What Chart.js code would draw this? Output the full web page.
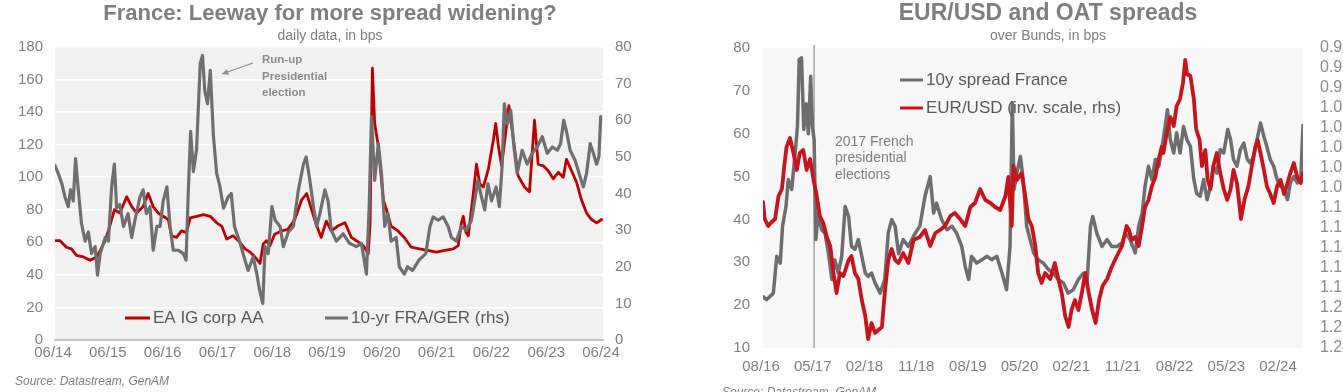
<!DOCTYPE html>
<html>
<head>
<meta charset="utf-8">
<script src="https://cdn.jsdelivr.net/npm/chart.js@4.4.1/dist/chart.umd.min.js"></script>
<style>
  html, body { margin: 0; padding: 0; background: #fff; }
  body { width: 1343px; height: 392px; overflow: hidden; position: relative; font-family: "Liberation Sans", Arial, sans-serif; }
  #left { position: absolute; left: 0; top: 0; }
  #right { position: absolute; left: 696px; top: 0; }
  .src { position: absolute; font-style: italic; font-size: 12px; color: #7f7f7f; white-space: nowrap; }
</style>
</head>
<body>
<canvas id="left" width="660" height="392"></canvas>
<canvas id="right" width="704" height="392"></canvas>
<div class="src" style="left:15px;top:374px">Source: Datastream, GenAM</div>
<div class="src" style="left:722px;top:385px">Source: Datastream, GenAM</div>
<script>
// ---- left chart: months since 06/2014 ----
const leftTickMonths = [0, 12, 24, 36, 48, 60, 72, 84, 96, 108, 120];
const leftTicks = ['06/14','06/15','06/16','06/17','06/18','06/19','06/20','06/21','06/22','06/23','06/24'];
const leftLhsTicks = [0, 20, 40, 60, 80, 100, 120, 140, 160, 180];
const leftRhsTicks = [0, 10, 20, 30, 40, 50, 60, 70, 80];

// EA IG corp AA (lhs)
const corpMonths = [0,1.1,2.5,3.6,4.7,6.2,7.7,9.1,9.9,11,12,13,14.2,15.7,16.8,17.9,19.3,20.4,21.5,22.6,23.7,24.8,25.5,26.6,27.7,28.8,29.6,31,32.5,34,35.4,36.5,37.6,39,40.5,41.6,42.7,43.8,44.9,45.6,46.3,47.1,48.1,49.6,51,52.5,54,55.1,56.2,57.2,58.3,59.4,60.5,61.9,63.5,64.9,66,67.5,68.6,69,69.5,70,70.8,71.9,72.6,73.6,75.1,76.5,78,79.8,81.6,83.5,85.4,87.2,88.3,89,89.4,90,90.5,91.6,92.3,93,93.8,94.9,96,96.5,97.1,97.8,98.5,99.4,100.3,101.4,102.8,103.9,105,105.8,106.9,108,109.1,110.2,111.3,112,113.1,114.2,115.3,116.4,117.5,118.6,119.7];
const corpAA = [61,61,57,56,52,51,49,51,55,61,70,80,78,88,82,78,82,90,82,78,76,74,64,63,67,66,75,76,77,76,72,70,62,64,60,56,54,51,47,59,61,58,65,67,68,74,86,90,80,71,63,73,67,70,72,63,61,58,53,72,167,133,119,86,80,70,67,63,57,56,55,54,55,56,58,72,76,66,64,90,108,96,94,105,123,133,119,107,123,144,125,101,94,91,135,108,107,104,99,103,100,111,104,97,86,78,74,72,74];

// 10-yr FRA/GER (rhs)
const fraGerMonths = [0,0.7,1.5,2.2,2.9,3.4,4,4.5,5.1,5.8,6.6,7.3,8,8.8,9.3,9.9,11,11.7,12.4,13,13.5,14.2,15,16,16.8,17.5,18.6,19.3,20,20.8,21.5,22.3,23,23.7,24.5,25.2,25.9,27,28.1,28.7,29.2,29.7,30.3,31,31.8,32.3,32.8,33.4,34,34.7,35.4,36.1,36.9,37.9,38.6,39.3,40.4,41.6,42.3,43.4,44.2,44.8,45.5,46,46.7,47.5,48.2,49.3,50,51.1,52.2,53.3,54.4,55,55.8,56.6,57.3,58,59.1,59.8,60.5,61.6,63.1,64.5,66,67.1,68.2,68.8,69.3,70,70.8,71.5,72.2,72.9,73.6,74.7,75.4,76.5,77.2,78.3,79.7,81.2,82.1,82.8,83.9,85,86.1,86.8,87.9,89,90.1,91.2,91.9,92.6,93.4,94.1,94.8,95.6,96.6,97.3,97.9,98.4,99.1,99.8,100.5,101.2,102.3,103.4,104.5,105.6,106.7,107.8,108.9,110,110.7,111.4,112.1,112.8,113.9,115,115.7,116.4,117.2,117.9,118.6,119.1,119.5];
const fraGer = [47.7,45.5,42.7,39,36.4,41,38,49.5,41,31.8,27,29.5,23.6,25.5,17.7,23.6,28,27,41.8,48,36,37,31,34.5,28,32.7,39,41,34.5,36.4,24.5,31,31,38,41.8,31,24.5,24.5,23.6,21.8,41,57,46,52,75.5,77.7,68,64.5,73.6,55.5,45.5,42,36,39,40,31,27,21.8,19,22.7,18,13.6,10,25.5,23.6,36.4,32.7,31,25.5,29.5,31,41,48,50,43.6,36.4,31,34.5,41,38,30,27,29,26.4,25.5,26.4,18,36.4,61,43.6,53.6,45.5,31,34.5,27,28,20,18,20,19,21.8,23.6,31,33.6,32.7,33.6,31,28,27,31,30,32.7,38,43.6,39,35.5,42.7,38,41.8,36.4,47.3,64.5,59,62.7,52.7,45.5,51.8,48,51,52.7,55.5,51,52.7,51.8,53.6,60,56.4,51.8,49,44.5,41.8,45.5,53.6,51,48,50,61];

// ---- right chart: months since 08/2016 ----
const rightTickMonths = [0, 9, 18, 27, 36, 45, 54, 63, 72, 81, 90];
const rightTicks = ['08/16','05/17','02/18','11/18','08/19','05/20','02/21','11/21','08/22','05/23','02/24'];
const rightLhsTicks = [10, 20, 30, 40, 50, 60, 70, 80];
const rightRhsTicks = [0.94,0.96,0.98,1.00,1.02,1.04,1.06,1.08,1.10,1.12,1.14,1.16,1.18,1.20,1.22,1.24];
const rightRhsLabels = ['0.94','0.96','0.98','1.00','1.02','1.04','1.06','1.08','1.10','1.12','1.14','1.16','1.18','1.20','1.22','1.24'];
const electionMonth = 8.9;

// 10y spread France (lhs)
const oatMonths = [0,0.6,1.2,1.8,2.4,3,3.4,4,4.4,5,5.6,6,6.3,6.7,7.1,7.5,7.9,8.3,8.6,8.9,9.2,9.6,10.2,10.8,11.4,12,12.5,13.1,13.7,14.3,14.9,15.4,16,16.6,17.2,17.8,18.3,18.9,19.5,20.4,21.2,21.8,22.4,23,23.6,24.4,25.3,26.5,27.3,28.2,29.1,29.7,30.2,31.1,32,32.9,33.7,34.6,35.2,35.8,36.3,37.2,38.1,39,39.8,40.7,41.6,42.4,43,43.4,43.7,44.2,44.8,45.3,45.9,46.5,47.1,47.9,48.8,49.7,50.5,51.4,52.3,53.1,54,54.9,55.8,56.4,57,57.4,58.1,59,59.9,60.7,61.6,62.5,63.1,63.9,64.8,65.4,66,66.5,67.1,67.7,68.3,68.9,69.4,70,70.4,70.9,71.5,72,72.6,73.2,73.8,74.4,75,75.5,76.1,76.7,77.3,77.9,78.4,79,79.6,80.2,80.9,81.4,81.9,82.5,83.1,83.7,84.3,84.8,85.4,86,86.6,87.2,87.7,88.3,88.9,89.5,90.1,90.7,91.3,91.8,92.4,93,93.6,94];
const oatSpread = [22,21.3,22,22.8,31.4,29.8,38.4,43,49.3,47,55.5,61.7,77.3,77.7,61,67,60,73.4,61.7,58.6,35.3,41.5,37.6,36.8,32,26,30.6,27.5,31.4,43,40.7,33.7,33,35.3,31.4,27.5,26.7,27.5,25.2,22.8,26,36.8,40,38.4,32,35.3,33.7,36.8,38.4,45.4,50,41.5,43.8,40,37.6,38.4,36.8,33.7,29,26,31.4,29.8,30.6,31.4,30.6,31.4,27.5,23.6,33.7,67.2,47,50.8,54.7,49.3,38.4,35.3,32.2,30.6,29.8,28.3,27.5,26,25.2,22.8,23.6,26,27.5,25.2,38.4,40.7,36.8,33.7,35.3,33.7,33.7,34.5,36.8,35.3,32.2,38.4,41.5,47.7,52.4,49.3,54,52.4,56.3,61.7,65.6,58.6,55.5,60.2,55.5,61.7,58.6,57,49.3,46,45.4,49.3,44.6,47.7,52.4,50.8,56.3,55.5,61,58.6,54,52.4,56.3,57.8,54,53.2,54.7,58.6,62.5,59.3,57,54,52.4,49.3,47.7,47,44.6,48.5,50,48.5,49.3,62];

// EUR/USD (inverted rhs)
const eurMonths = [0,0.3,0.9,1.5,2.1,2.7,3.3,3.7,4.1,4.7,5.3,5.9,6.4,7,7.6,8.2,8.8,9.3,9.9,10.5,11.1,11.7,12.2,12.8,13.4,14,14.9,15.4,16,16.6,17.2,17.8,18.3,18.9,19.5,20.1,20.7,21.2,21.8,22.4,23,23.6,24.4,25.3,26.2,27.3,28.2,29.1,30,30.8,31.7,32.6,33.4,34.3,35.2,36.1,36.9,37.8,38.7,39.6,40.4,41.3,42.2,42.7,43.3,43.6,44.2,45,45.6,46.2,46.8,47.4,47.9,48.5,49.1,50,50.8,51.4,52,52.6,53.2,53.7,54.3,54.9,55.5,56.1,56.7,57.3,57.9,58.5,59.1,59.9,60.7,61.6,62.5,63.3,63.7,64.2,64.8,65.4,66,66.5,67.1,67.7,68.3,68.9,69.4,69.7,70.3,70.9,71.5,72,72.6,73.1,73.5,73.8,74.4,75,75.4,76,76.4,77,77.4,77.9,78.4,79,79.6,80.2,80.8,81.4,81.9,82.5,83.2,83.8,84.5,85.1,85.7,86.1,86.6,87.2,87.7,88.3,88.9,89.5,90.1,90.7,91.3,91.8,92.4,93,93.6,94];
const eurUsd = [1.094,1.111,1.118,1.114,1.111,1.088,1.081,1.058,1.039,1.030,1.045,1.062,1.045,1.042,1.062,1.051,1.072,1.086,1.108,1.115,1.129,1.138,1.162,1.185,1.165,1.168,1.152,1.148,1.165,1.171,1.192,1.208,1.231,1.215,1.225,1.222,1.219,1.185,1.152,1.141,1.152,1.155,1.145,1.155,1.132,1.129,1.122,1.138,1.125,1.122,1.118,1.108,1.105,1.111,1.118,1.099,1.095,1.081,1.092,1.095,1.099,1.102,1.088,1.069,1.118,1.058,1.072,1.065,1.086,1.111,1.118,1.138,1.165,1.175,1.165,1.171,1.155,1.171,1.185,1.208,1.219,1.202,1.192,1.202,1.185,1.165,1.185,1.202,1.215,1.192,1.178,1.171,1.159,1.148,1.138,1.118,1.122,1.132,1.129,1.138,1.118,1.099,1.092,1.078,1.069,1.051,1.039,1.045,1.025,1.009,1.018,0.998,0.991,0.975,0.952,0.966,0.968,0.991,1.021,1.032,1.058,1.042,1.072,1.081,1.058,1.045,1.065,1.081,1.092,1.081,1.062,1.075,1.111,1.092,1.078,1.058,1.039,1.032,1.045,1.062,1.078,1.086,1.095,1.078,1.072,1.086,1.075,1.065,1.055,1.069,1.075,1.065];

Chart.defaults.font.family = '"Liberation Sans", Arial, sans-serif';
const TXT = '#7f7f7f';
const pts = (xs, ys) => xs.map((x, i) => ({ x, y: ys[i] }));

// plot background, legends, notes
const decor = {
  id: 'decor',
  beforeDraw(chart, args, o) {
    const { ctx, chartArea: a } = chart;
    ctx.save();
    ctx.fillStyle = o.bg;
    ctx.fillRect(a.left, a.top, a.right - a.left, a.bottom - a.top);
    ctx.restore();
  },
  beforeDatasetsDraw(chart, args, o) {
    if (!o.vline) return;
    const { ctx, chartArea: a } = chart;
    const x = chart.scales.x.getPixelForValue(o.vline.month);
    ctx.save();
    ctx.strokeStyle = o.vline.color; ctx.lineWidth = 1.5;
    ctx.beginPath(); ctx.moveTo(x, a.top - 3); ctx.lineTo(x, a.bottom); ctx.stroke();
    ctx.restore();
  },
  afterDraw(chart, args, o) {
    const ctx = chart.ctx;
    ctx.save();
    ctx.textBaseline = 'middle';
    (o.legend || []).forEach(l => {
      ctx.strokeStyle = l.color; ctx.lineWidth = 3;
      ctx.beginPath(); ctx.moveTo(l.x1, l.y); ctx.lineTo(l.x2, l.y); ctx.stroke();
      ctx.fillStyle = '#595959'; ctx.font = l.font;
      ctx.fillText(l.text, l.x2 + 3, l.y);
    });
    (o.notes || []).forEach(n => {
      ctx.fillStyle = n.color; ctx.font = n.font;
      n.lines.forEach((t, i) => ctx.fillText(t, n.x, n.y + i * n.lh));
    });
    if (o.arrow) {
      const { x1, y1, x2, y2, color } = o.arrow;
      const ang = Math.atan2(y2 - y1, x2 - x1);
      ctx.strokeStyle = color; ctx.fillStyle = color; ctx.lineWidth = 1.3;
      ctx.beginPath(); ctx.moveTo(x1, y1); ctx.lineTo(x2, y2); ctx.stroke();
      ctx.beginPath();
      ctx.moveTo(x2, y2);
      ctx.lineTo(x2 - 7 * Math.cos(ang - 0.45), y2 - 7 * Math.sin(ang - 0.45));
      ctx.lineTo(x2 - 7 * Math.cos(ang + 0.45), y2 - 7 * Math.sin(ang + 0.45));
      ctx.closePath(); ctx.fill();
    }
    ctx.restore();
  }
};

function yAxis(pos, values, labels, width, pad, extra) {
  return Object.assign({
    type: 'linear', position: pos,
    min: Math.min(...values), max: Math.max(...values),
    afterBuildTicks: s => { s.ticks = values.map(v => ({ value: v })); },
    afterFit: s => { s.width = width; },
    grid: { display: false, drawTicks: false },
    border: { display: false },
    ticks: { color: TXT, font: { size: 15 }, padding: pad, autoSkip: false, callback: (v, i) => labels[i] }
  }, extra || {});
}

function xAxis(max, values, labels, height, pad, border) {
  return {
    type: 'linear', position: 'bottom', min: 0, max: max,
    afterBuildTicks: s => { s.ticks = values.map(v => ({ value: v })); },
    afterFit: s => { s.height = height; },
    grid: { display: false, drawTicks: false },
    border: border ? { display: true, color: '#c4c4c4', width: 2 } : { display: false },
    ticks: { color: TXT, font: { size: 15 }, padding: pad, autoSkip: false, maxRotation: 0, labelOffset: -2, callback: (v, i) => labels[i] }
  };
}

const base = {
  responsive: false, animation: false, devicePixelRatio: 1,
  elements: { point: { radius: 0 }, line: { tension: 0, borderJoinStyle: 'round', borderCapStyle: 'round' } },
  layout: { padding: 0 },
  events: []
};

new Chart(document.getElementById('left'), {
  type: 'line',
  data: {
    datasets: [
      { label: 'EA IG corp AA', data: pts(corpMonths, corpAA), yAxisID: 'yL', borderColor: '#c00000', borderWidth: 2.8, order: 1 },
      { label: '10-yr FRA/GER (rhs)', data: pts(fraGerMonths, fraGer), yAxisID: 'yR', borderColor: '#6f6f6f', borderWidth: 3.2, order: 0 }
    ]
  },
  options: Object.assign({}, base, {
    plugins: {
      legend: { display: false }, tooltip: { enabled: false },
      title: { display: true, text: 'France: Leeway for more spread widening?', color: TXT, font: { size: 22, weight: 'bold' }, padding: { top: 1, bottom: 0 } },
      subtitle: { display: true, text: 'daily data, in bps', color: TXT, font: { size: 14 }, padding: { top: 0, bottom: 2.8 } },
      decor: {
        bg: '#f1f1f1',
        legend: [
          { x1: 125, x2: 150, y: 318, color: '#c00000', text: 'EA IG corp AA', font: '17px "Liberation Sans", Arial, sans-serif' },
          { x1: 325, x2: 348, y: 318, color: '#6f6f6f', text: '10-yr FRA/GER (rhs)', font: '17px "Liberation Sans", Arial, sans-serif' }
        ],
        notes: [{ x: 262, y: 60, lh: 16.5, color: '#8c8c8c', font: 'bold 11.5px "Liberation Sans", Arial, sans-serif', lines: ['Run-up', 'Presidential', 'election'] }],
        arrow: { x1: 253, y1: 63, x2: 222, y2: 74, color: '#8c8c8c' }
      }
    },
    scales: {
      x: xAxis(120, leftTickMonths, leftTicks, 52, 4, true),
      yL: yAxis('left', leftLhsTicks, leftLhsTicks.map(String), 55, 12, {
        grid: { display: true, drawTicks: false, color: '#ffffff', lineWidth: 1.5 }
      }),
      yR: yAxis('right', leftRhsTicks, leftRhsTicks.map(String), 57, 12)
    }
  }),
  plugins: [decor]
});

new Chart(document.getElementById('right'), {
  type: 'line',
  data: {
    datasets: [
      { label: '10y spread France', data: pts(oatMonths, oatSpread), yAxisID: 'yL', borderColor: '#6e6e6e', borderWidth: 3.5, order: 1 },
      { label: 'EUR/USD (inv. scale, rhs)', data: pts(eurMonths, eurUsd), yAxisID: 'yR', borderColor: '#c8141c', borderWidth: 3.8, order: 0 }
    ]
  },
  options: Object.assign({}, base, {
    plugins: {
      legend: { display: false }, tooltip: { enabled: false },
      title: { display: true, text: 'EUR/USD and OAT spreads', color: TXT, font: { size: 23, weight: 'bold' }, padding: { top: 0, bottom: 0 } },
      subtitle: { display: true, text: 'over Bunds, in bps', color: TXT, font: { size: 14 }, padding: { top: 0, bottom: 3.6 } },
      decor: {
        bg: '#f7f7f7',
        vline: { month: electionMonth, color: '#a6a6a6' },
        legend: [
          { x1: 204, x2: 227, y: 80, color: '#6e6e6e', text: '10y spread France', font: '17px "Liberation Sans", Arial, sans-serif' },
          { x1: 204, x2: 227, y: 108, color: '#c8141c', text: 'EUR/USD (inv. scale, rhs)', font: '17px "Liberation Sans", Arial, sans-serif' }
        ],
        notes: [{ x: 139, y: 142, lh: 16.5, color: '#7f7f7f', font: '14px "Liberation Sans", Arial, sans-serif', lines: ['2017 French', 'presidential', 'elections'] }]
      }
    },
    scales: {
      x: xAxis(94, rightTickMonths, rightTicks, 44, 10, false),
      yL: yAxis('left', rightLhsTicks, rightLhsTicks.map(String), 67, 13),
      yR: yAxis('right', rightRhsTicks, rightRhsLabels, 97, 17, {
        reverse: true,
        ticks: { color: '#8c8c8c', font: { size: 16 }, padding: 17, autoSkip: false, callback: (v, i) => rightRhsLabels[i] }
      })
    }
  }),
  plugins: [decor]
});
</script>
</body>
</html>
